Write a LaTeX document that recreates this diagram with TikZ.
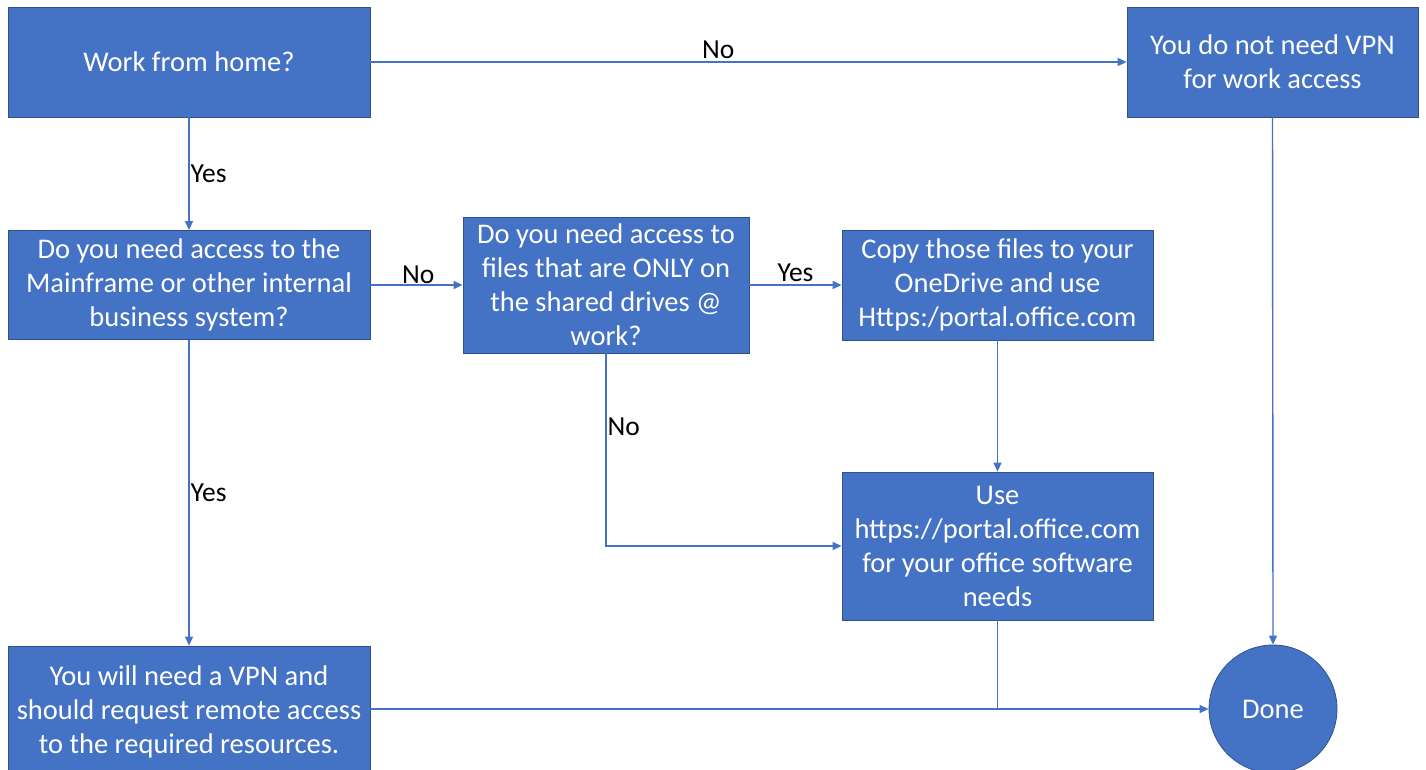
\documentclass[tikz,border=0pt]{standalone}
\usepackage{fontspec}
\setmainfont{Carlito}
\usetikzlibrary{arrows.meta}
\definecolor{boxblue}{HTML}{4472C4}
\definecolor{boxedge}{HTML}{2F528F}
\begin{document}
\begin{tikzpicture}[x=1pt,y=-1pt,
  box/.style={draw=boxedge,line width=0.8pt,fill=boxblue,text=white,align=center,
    inner sep=0pt,font=\fontsize{28.5}{34}\selectfont},
  conn/.style={draw=boxblue,line width=1.4pt,-{Triangle[length=9pt,width=8pt]}},
  plain/.style={draw=boxblue,line width=1.4pt},
  lbl/.style={font=\fontsize{27.5}{30}\selectfont,text=black,inner sep=1pt}]
\useasboundingbox (0,0) rectangle (1426,770);
\node[box,minimum width=362pt,minimum height=110pt] (wfh) at (189,62) {Work from home?};
\node[box,minimum width=291pt,minimum height=110pt] (novpn) at (1272.5,62) {You do not need VPN\\for work access};
\node[box,minimum width=362pt,minimum height=109pt] (main) at (189,285) {Do you need access to the\\Mainframe or other internal\\business system?};
\node[box,minimum width=286pt,minimum height=136pt] (files) at (606,285) {Do you need access to\\files that are ONLY on\\the shared drives @\\work?};
\node[box,minimum width=311pt,minimum height=110pt] (copy) at (997.5,285) {Copy those files to your\\OneDrive and use\\Https:/portal.office.com};
\node[box,minimum width=311pt,minimum height=148pt] (use) at (997.5,546) {Use\\https://portal.office.com\\for your office software\\needs};
\node[box,minimum width=362pt,minimum height=132pt] (vpn) at (189,712) {You will need a VPN and\\should request remote access\\to the required resources.};
\node[box,circle,minimum size=128pt] (done) at (1273,709) {Done};

\coordinate (filesturn) at (606,546);
\coordinate (join) at (997.5,709);

\draw[conn] (wfh.east) -- node[lbl,above=2pt,pos=0.46] {No} (novpn.west);
\draw[conn] (wfh.south) -- node[lbl,right,pos=0.5] {Yes} (main.north);
\draw[conn] (main.east) -- node[lbl,above,pos=0.52] {No} (files.west);
\draw[conn] (files.east) -- node[lbl,above=2pt,pos=0.5] {Yes} (copy.west);
\draw[conn] (copy.south) -- (use.north);
\draw[conn] (files.south) -- node[lbl,right,pos=0.38] {No} (filesturn) -- (use.west);
\draw[conn] (main.south) -- node[lbl,right,pos=0.5] {Yes} (vpn.north);
\draw[conn] (vpn.east |- done.west) -- (done.west);
\draw[plain] (use.south) -- (join);
\draw[conn] (novpn.south) -- (done.north);
\end{tikzpicture}
\end{document}
